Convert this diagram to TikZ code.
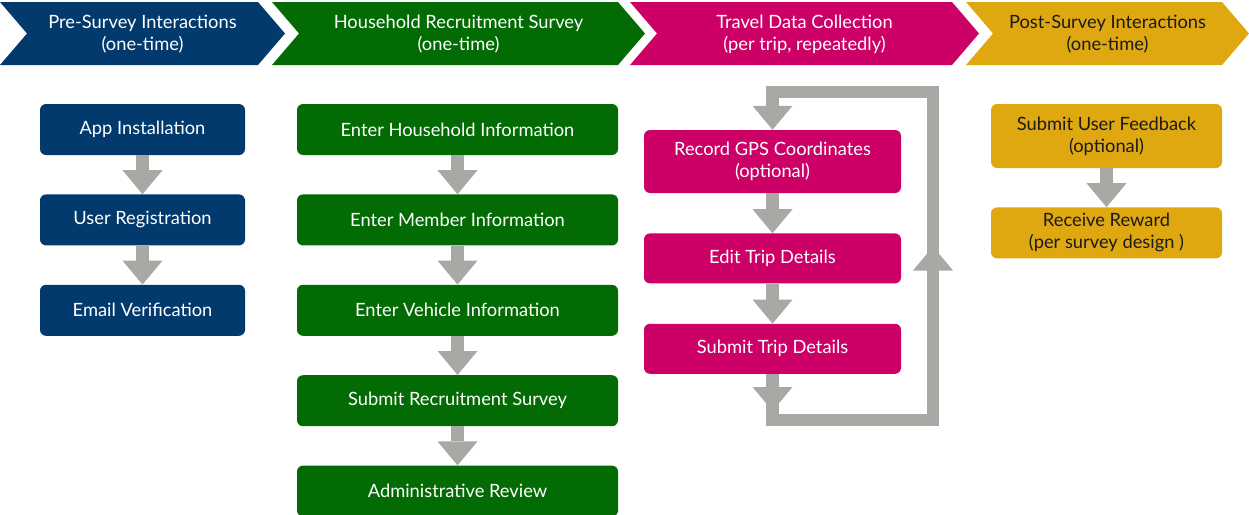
\documentclass[tikz,border=0pt]{standalone}
\usepackage{fontspec}
\setmainfont{Lato}
\usetikzlibrary{arrows.meta,positioning,decorations.markings}
\definecolor{SVNavy}{HTML}{033A6E}
\definecolor{SVGreen}{HTML}{036B03}
\definecolor{SVMagenta}{HTML}{CC0066}
\definecolor{SVGold}{HTML}{DFA811}
\definecolor{SVGray}{HTML}{A8A9A5}
\definecolor{SVInk}{HTML}{1A1A1A}

\tikzset{
  headtext/.style={align=center, text=white, font=\fontsize{18.3}{22}\selectfont},
  stepbox/.style={rounded corners=6pt, inner sep=4pt, minimum height=51pt,
    align=center, text=white, font=\fontsize{18.3}{22}\selectfont},
  blocktip/.tip={Triangle[width=40pt, length=24pt, line width=0pt]},
  flow/.style={draw=SVGray, line width=13pt, -blocktip},
}

\begin{document}
\begin{tikzpicture}[x=1pt, y=-1pt]
\useasboundingbox (0,0) rectangle (1249,514);

% phase chevrons along the top
\foreach \xa/\xb/\col in {0/285/SVNavy, 272/645/SVGreen, 630/979/SVMagenta, 966/1249/SVGold}
  \fill[\col] (\xa,2) -- (\xb-27,2) -- (\xb,33.5) -- (\xb-27,65) -- (\xa,65) -- (\xa+27,33.5) -- cycle;

\node[headtext] (pre) at (142.5,34) {Pre-Survey Interactions\\(one-time)};
\node[headtext] (hh) at (458.5,34) {Household Recruitment Survey\\(one-time)};
\node[headtext] (travel) at (804.5,34) {Travel Data Collection\\(per trip, repeatedly)};
\node[headtext, text=SVInk] (post) at (1107.5,34) {Post-Survey Interactions\\(one-time)};

% pre-survey steps
\node[stepbox, fill=SVNavy, minimum width=205pt] (app) at (142.5,129.5) {App Installation};
\node[stepbox, fill=SVNavy, minimum width=205pt, below=39pt of app] (reg) {User Registration};
\node[stepbox, fill=SVNavy, minimum width=205pt, below=39pt of reg] (email) {Email Verification};

% recruitment survey steps
\node[stepbox, fill=SVGreen, minimum width=321pt] (house) at (457.5,129.5) {Enter Household Information};
\node[stepbox, fill=SVGreen, minimum width=321pt, below=39pt of house] (member) {Enter Member Information};
\node[stepbox, fill=SVGreen, minimum width=321pt, below=39pt of member] (vehicle) {Enter Vehicle Information};
\node[stepbox, fill=SVGreen, minimum width=321pt, below=39pt of vehicle] (submit) {Submit Recruitment Survey};
\node[stepbox, fill=SVGreen, minimum width=321pt, below=39pt of submit] (review) {Administrative Review};

% trip loop
\node[stepbox, fill=SVMagenta, minimum width=257pt, minimum height=63pt] (gps) at (772.5,161.5) {Record GPS Coordinates\\(optional)};
\node[stepbox, fill=SVMagenta, minimum width=257pt, minimum height=50pt, below=40pt of gps] (edit) {Edit Trip Details};
\node[stepbox, fill=SVMagenta, minimum width=257pt, minimum height=50pt, below=40pt of edit] (trip) {Submit Trip Details};

% post-survey steps
\node[stepbox, fill=SVGold, text=SVInk, minimum width=231pt, minimum height=64pt] (feedback) at (1106.5,136) {Submit User Feedback\\(optional)};
\node[stepbox, fill=SVGold, text=SVInk, minimum width=231pt, below=39pt of feedback] (reward) {Receive Reward\\(per survey design )};

% connectors
\draw[flow] (app) -- (reg);
\draw[flow] (reg) -- (email);
\draw[flow] (house) -- (member);
\draw[flow] (member) -- (vehicle);
\draw[flow] (vehicle) -- (submit);
\draw[flow] (submit) -- (review);
\draw[flow] (gps) -- (edit);
\draw[flow] (edit) -- (trip);
\draw[flow] (feedback) -- (reward);

\coordinate (loopturn) at (933,92);
\draw[flow, line width=12.5pt, postaction={decorate, decoration={markings,
    mark=at position 37pt with {\arrow[SVGray]{blocktip}},
    mark=at position 380pt with {\arrow[SVGray]{blocktip}}}}]
  (trip.south) -- ++(0,46) -| (loopturn) -| (gps.north);
\end{tikzpicture}
\end{document}
